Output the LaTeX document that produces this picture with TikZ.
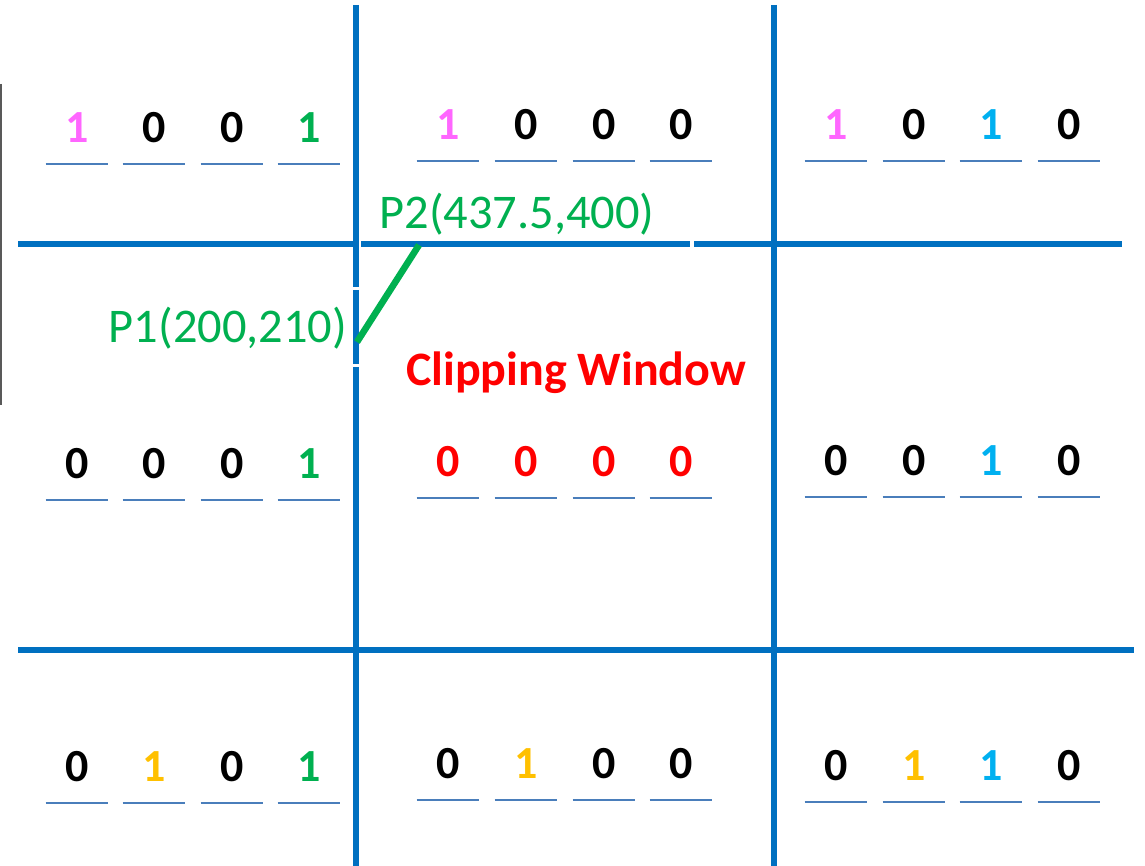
\documentclass[tikz,border=0pt]{standalone}
\usepackage{fontspec}
\setmainfont{Carlito}
\usetikzlibrary{calc}
\tikzset{every node/.style={font=\fontsize{24.2}{29}\selectfont}}
\definecolor{gridcol}{HTML}{0070C0}
\definecolor{bitline}{HTML}{4A7EBB}
\definecolor{bitpink}{HTML}{FF66FF}
\definecolor{bitgreen}{HTML}{00B050}
\definecolor{bitcyan}{HTML}{00B0F0}
\definecolor{bitgold}{HTML}{FFC000}
\definecolor{winred}{HTML}{FF0000}
\colorlet{segcol}{bitgreen}
\colorlet{framecol}{black!65}
\tikzset{
  gridline/.style={draw=gridcol, line width=2.9pt},
  bit/.style={font=\fontsize{23}{27}\selectfont\bfseries, anchor=south,
    inner sep=0pt, minimum width=31pt, text depth=10.5pt,
    append after command={\pgfextra{\let\bitnode\tikzlastnode}
      (\bitnode.south west) edge[draw=bitline, line width=1pt] (\bitnode.south east)}},
}

\begin{document}
\begin{tikzpicture}[x=0.5pt, y=-0.5pt]
\useasboundingbox (0,0) rectangle (1145,866);

% Left frame edge
\draw[framecol, line width=0.8pt] (1,84) -- (1,405);

% Grid lines
\draw[gridline] (356,5) -- (356,287);
\draw[gridline] (356,290) -- (356,364);
\draw[gridline] (356,367) -- (356,866);
\draw[gridline] (774,5) -- (774,866);
\draw[gridline] (18,244) -- (358,244);
\draw[gridline] (361,244) -- (690,244);
\draw[gridline] (694,244) -- (1122,244);
\draw[gridline] (18,650) -- (1134,650);

% Top row
\node[bit, text=bitpink] (tl1) at (77,164) {1};
\node[bit] (tl2) at (154,164) {0};
\node[bit] (tl3) at (232,164) {0};
\node[bit, text=bitgreen] (tl4) at (309,164) {1};

\node[bit, text=bitpink] (tc1) at (448,161) {1};
\node[bit] (tc2) at (526,161) {0};
\node[bit] (tc3) at (604,161) {0};
\node[bit] (tc4) at (681,161) {0};

\node[bit, text=bitpink] (tr1) at (836,161) {1};
\node[bit] (tr2) at (914,161) {0};
\node[bit, text=bitcyan] (tr3) at (991,161) {1};
\node[bit] (tr4) at (1069,161) {0};

% Middle row
\node[bit] (ml1) at (77,500) {0};
\node[bit] (ml2) at (154,500) {0};
\node[bit] (ml3) at (232,500) {0};
\node[bit, text=bitgreen] (ml4) at (309,500) {1};

\node[bit, text=winred] (mc1) at (448,498) {0};
\node[bit, text=winred] (mc2) at (526,498) {0};
\node[bit, text=winred] (mc3) at (604,498) {0};
\node[bit, text=winred] (mc4) at (681,498) {0};

\node[bit] (mr1) at (836,497) {0};
\node[bit] (mr2) at (914,497) {0};
\node[bit, text=bitcyan] (mr3) at (991,497) {1};
\node[bit] (mr4) at (1069,497) {0};

% Bottom row
\node[bit] (bl1) at (77,803) {0};
\node[bit, text=bitgold] (bl2) at (154,803) {1};
\node[bit] (bl3) at (232,803) {0};
\node[bit, text=bitgreen] (bl4) at (309,803) {1};

\node[bit] (bc1) at (448,800) {0};
\node[bit, text=bitgold] (bc2) at (526,800) {1};
\node[bit] (bc3) at (604,800) {0};
\node[bit] (bc4) at (681,800) {0};

\node[bit] (br1) at (836,802) {0};
\node[bit, text=bitgold] (br2) at (914,802) {1};
\node[bit, text=bitcyan] (br3) at (991,802) {1};
\node[bit] (br4) at (1069,802) {0};

% Line to clip
\coordinate (p1) at (357,342);
\coordinate (p2) at (419,245);
\draw[segcol, line width=3.3pt] (p1) -- (p2);
\node[text=segcol, anchor=base] (p1lab) at (228,342) {P1(200,210)};
\node[text=segcol, anchor=base] (p2lab) at (517,228) {P2(437.5,400)};

% Window label
\node[text=winred, font=\fontsize{24}{28}\selectfont\bfseries, anchor=base] (win) at (576,385) {Clipping Window};

\end{tikzpicture}
\end{document}
